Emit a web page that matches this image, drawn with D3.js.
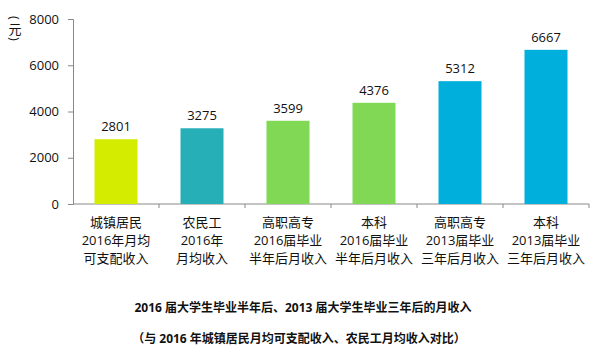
<!DOCTYPE html>
<html><head><meta charset="utf-8">
<script src="https://cdn.jsdelivr.net/npm/d3@7"></script>
<style>
body{margin:0;background:#fff;}
text{font-family:"Open Sans","Noto Sans CJK SC",sans-serif;}
</style></head>
<body><svg id="c" width="600" height="360"></svg>
<script>
const categories = [
  ["城镇居民","2016年月均","可支配收入"],
  ["农民工","2016年","月均收入"],
  ["高职高专","2016届毕业","半年后月收入"],
  ["本科","2016届毕业","半年后月收入"],
  ["高职高专","2013届毕业","三年后月收入"],
  ["本科","2013届毕业","三年后月收入"]
];
const values = [2801, 3275, 3599, 4376, 5312, 6667];
const colors = ["#d4ec00","#27afb7","#80d854","#80d854","#00afdc","#00afdc"];
const yTicks = [0, 2000, 4000, 6000, 8000];
const yUnit = ["(","元",")"];
const title = "2016 届大学生毕业半年后、2013 届大学生毕业三年后的月收入";
const subtitle = "（与 2016 年城镇居民月均可支配收入、农民工月均收入对比）";

const svg = d3.select("#c");
const m = {left:73, right:589, top:19, bottom:204};
const x = d3.scaleBand().domain(d3.range(values.length)).range([m.left, m.right]).paddingInner(0.5).paddingOuter(0.25);
const y = d3.scaleLinear().domain([0, 8000]).range([m.bottom, m.top]);

// y axis
const ya = svg.append("g").attr("transform",`translate(${m.left},0)`)
  .call(d3.axisLeft(y).tickValues(yTicks).tickSize(5).tickPadding(9).tickFormat(d3.format("d")));
ya.select(".domain").attr("stroke","#888");
ya.selectAll(".tick line").attr("stroke","#888");
ya.selectAll(".tick text").attr("font-size",13).attr("fill","#111");

// x axis
const xb = d3.scaleLinear().domain([0, values.length]).range([m.left, m.right]);
const xa = svg.append("g").attr("transform",`translate(0,${m.bottom})`);
xa.append("line").attr("x1",m.left).attr("x2",m.right).attr("stroke","#888");
xa.selectAll("line.t").data(d3.range(1, values.length+1)).enter().append("line")
  .attr("class","t").attr("x1",d=>xb(d)).attr("x2",d=>xb(d)).attr("y1",0).attr("y2",4).attr("stroke","#888");

// bars
svg.selectAll("rect.bar").data(values).enter().append("rect")
  .attr("class","bar")
  .attr("x",(d,i)=>x(i)).attr("width",x.bandwidth())
  .attr("y",d=>y(d)).attr("height",d=>y(0)-y(d))
  .attr("fill",(d,i)=>colors[i]);

// value labels
svg.selectAll("text.val").data(values).enter().append("text")
  .attr("class","val")
  .attr("x",(d,i)=>x(i)+x.bandwidth()/2).attr("y",d=>y(d)-8)
  .attr("text-anchor","middle").attr("font-size",13).attr("fill","#111")
  .text(d=>d);

// category labels
const cg = svg.selectAll("g.cat").data(categories).enter().append("g").attr("class","cat");
cg.each(function(lines,i){
  const g = d3.select(this);
  lines.forEach((l,k)=>{
    g.append("text").attr("x",x(i)+x.bandwidth()/2).attr("y",227+k*18)
      .attr("text-anchor","middle").attr("font-size",13).attr("fill","#111").text(l);
  });
});

// unit (vertical, parentheses rotated)
const ug = svg.append("g").attr("fill","#111").attr("font-size",13);
ug.append("text").attr("transform","translate(15,18) rotate(90)").attr("text-anchor","middle")
  .attr("dominant-baseline","central").text(yUnit[0]);
ug.append("text").attr("x",15).attr("y",34).attr("text-anchor","middle")
  .attr("font-family","Noto Sans CJK SC").text(yUnit[1]);
ug.append("text").attr("transform","translate(15,39) rotate(90)").attr("text-anchor","middle")
  .attr("dominant-baseline","central").text(yUnit[2]);

// titles
svg.append("text").attr("x",303).attr("y",312).attr("text-anchor","middle")
  .attr("font-size",12).attr("font-weight","bold").attr("fill","#111").text(title);
svg.append("text").attr("x",299).attr("y",343).attr("text-anchor","middle")
  .attr("font-size",12).attr("font-weight","bold").attr("fill","#111").text(subtitle);
</script></body></html>
